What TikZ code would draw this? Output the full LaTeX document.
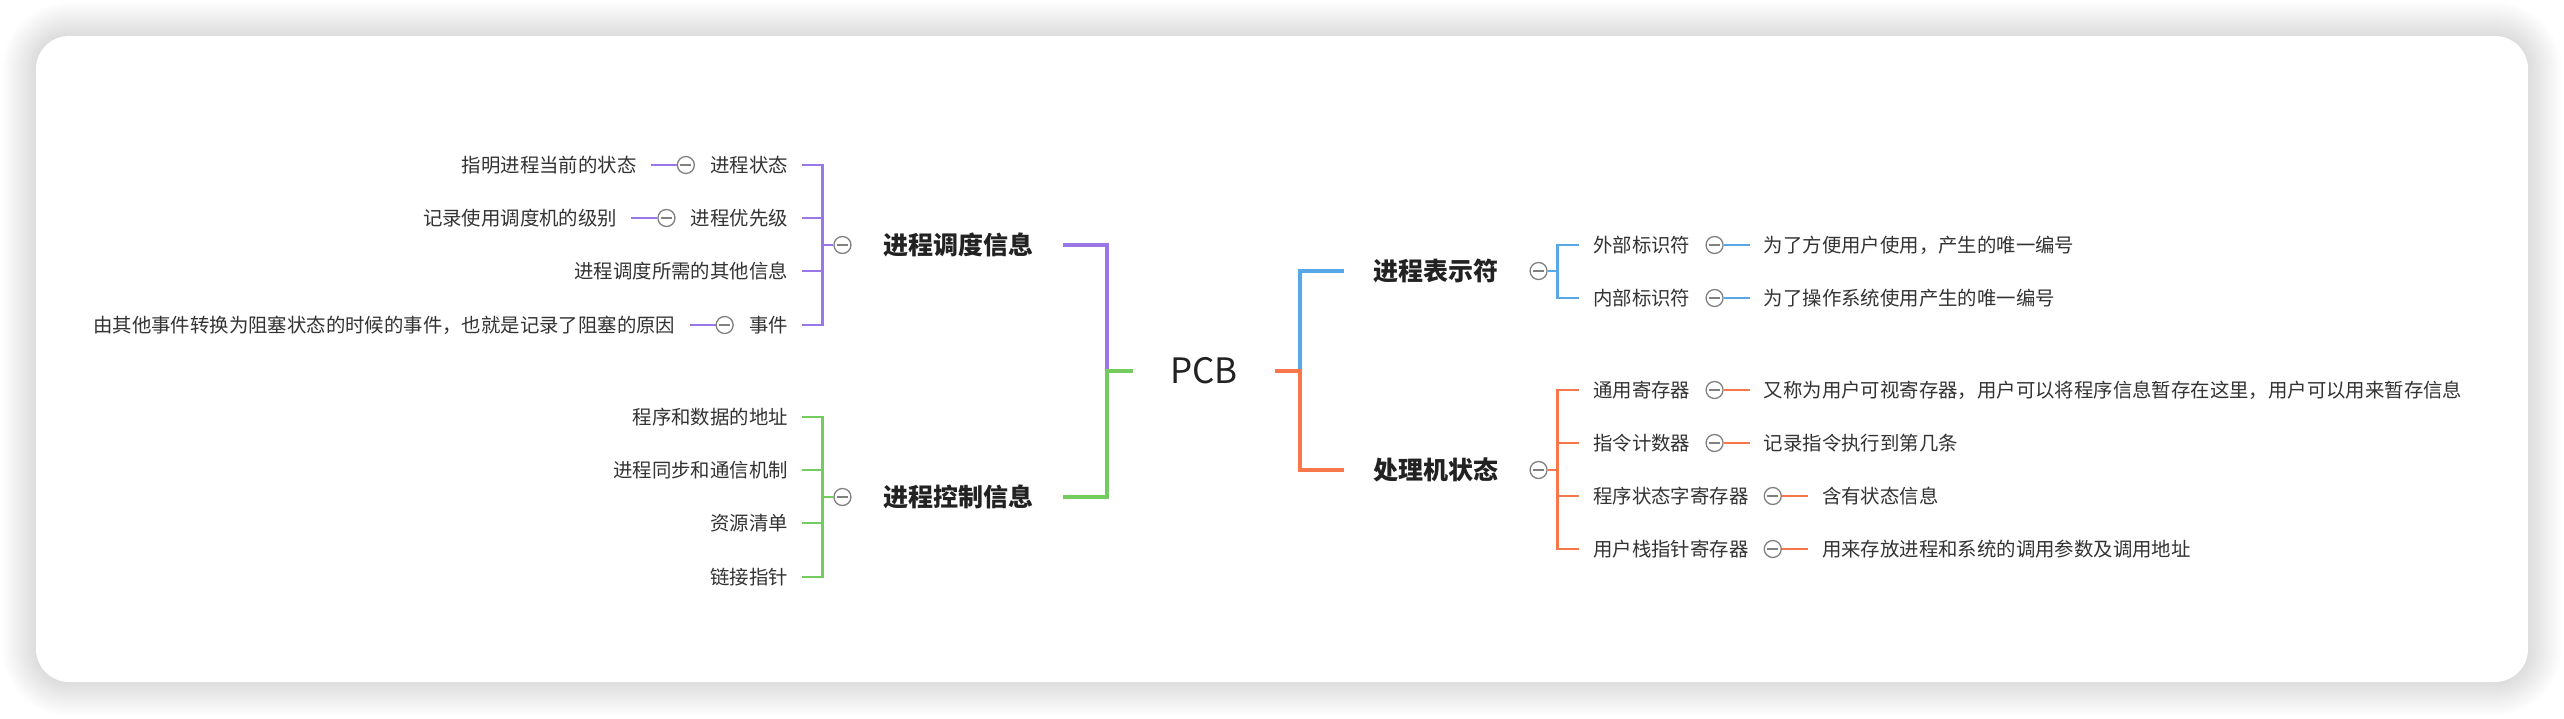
\documentclass[tikz,border=0pt]{standalone}
\usepackage{fontspec}
\setmainfont{Noto Sans CJK SC}
\usetikzlibrary{positioning}

\definecolor{purp}{HTML}{9A76E6}
\definecolor{grn}{HTML}{74CC5F}
\definecolor{blu}{HTML}{58A8E8}
\definecolor{orng}{HTML}{F7774B}
\definecolor{foldgray}{HTML}{808080}
\definecolor{txt}{HTML}{333333}
\definecolor{txtdark}{HTML}{222222}

\tikzset{
  topic/.style={text=txtdark, font=\fontsize{35}{40}\selectfont, text height=28.6pt, text depth=3pt, inner ysep=0pt, inner xsep=37pt},
  mainbox/.style={text=txtdark, font=\bfseries\fontsize{25}{30}\selectfont, text height=22pt, text depth=3pt, inner ysep=0pt, inner xsep=29pt},
  subbox/.style={text=txt, font=\fontsize{19.4}{24}\selectfont, text height=17.1pt, text depth=2.3pt, inner ysep=0pt, inner xsep=14pt},
  fold/.style={circle, draw=foldgray, fill=white, line width=1.3pt, minimum size=17pt, inner sep=0pt,
    path picture={\draw[foldgray, line width=1.3pt] ([xshift=-5.5pt]path picture bounding box.center) -- ([xshift=5.5pt]path picture bounding box.center);}},
  mainline/.style={line width=4pt, line join=miter},
  subline/.style={line width=2.6pt, line join=miter}
}

\begin{document}
\begin{tikzpicture}[x=1pt,y=1pt,yscale=-1,xscale=1]
\useasboundingbox (0,0) rectangle (2564,718);
\fill[white] (0,0) rectangle (2564,718);

%Shape: card shadow and card
\foreach \s [evaluate=\s as \r using 33+\s] in {1,...,34}
  \fill[black, opacity=0.0045, rounded corners=\r pt] ({36-\s},{36-\s}) rectangle ({2528+\s},{682+\s});
\fill[white, rounded corners=33pt] (36,36) rectangle (2528,682);

% Root
\node[topic] (pcb) at (1204,371) {PCB};
\coordinate (jl) at (1107,371);
\coordinate (jr) at (1300,371);

% Main topics
\node[mainbox, anchor=east] (sched) at (1063,245) {进程调度信息};
\node[mainbox, anchor=east] (ctrl) at (1063,497) {进程控制信息};
\node[mainbox, anchor=west] (pid) at (1344,271) {进程表示符};
\node[mainbox, anchor=west] (cpu) at (1344,470) {处理机状态};

\node[fold, left=3pt of sched] (schedf) {};
\node[fold, left=3pt of ctrl] (ctrlf) {};
\node[fold, right=2pt of pid] (pidf) {};
\node[fold, right=2pt of cpu] (cpuf) {};
\coordinate (schedb) at ([xshift=-11pt]schedf.west);
\coordinate (ctrlb) at ([xshift=-11pt]ctrlf.west);
\coordinate (pidb) at ([xshift=10pt]pidf.east);
\coordinate (cpub) at ([xshift=10pt]cpuf.east);

% Text Node: process scheduling
\node[subbox, anchor=east] (state) at (802,165) {进程状态};
\node[subbox, anchor=east] (prio) at (802,218) {进程优先级};
\node[subbox, anchor=east] (other) at (802,271) {进程调度所需的其他信息};
\node[subbox, anchor=east] (event) at (802,325) {事件};
\node[fold, left=1pt of state] (statef) {};
\node[fold, left=1pt of prio] (priof) {};
\node[fold, left=1pt of event] (eventf) {};
\node[subbox, left=26pt of statef] (stated) {指明进程当前的状态};
\node[subbox, left=26pt of priof] (priod) {记录使用调度机的级别};
\node[subbox, left=26pt of eventf] (eventd) {由其他事件转换为阻塞状态的时候的事件，也就是记录了阻塞的原因};

% Text Node: process control
\node[subbox, anchor=east] (addr) at (802,417) {程序和数据的地址};
\node[subbox, anchor=east] (sync) at (802,470) {进程同步和通信机制};
\node[subbox, anchor=east] (res) at (802,523) {资源清单};
\node[subbox, anchor=east] (link) at (802,577) {链接指针};

% Text Node: process identifier
\node[subbox, anchor=west] (extid) at (1579,245) {外部标识符};
\node[subbox, anchor=west] (intid) at (1579,298) {内部标识符};
\node[fold, right=1pt of extid] (extidf) {};
\node[fold, right=1pt of intid] (intidf) {};
\node[subbox, right=26pt of extidf] (extidd) {为了方便用户使用，产生的唯一编号};
\node[subbox, right=26pt of intidf] (intidd) {为了操作系统使用产生的唯一编号};

% Text Node: processor state
\node[subbox, anchor=west] (genreg) at (1579,390) {通用寄存器};
\node[subbox, anchor=west] (pc) at (1579,443) {指令计数器};
\node[subbox, anchor=west] (psw) at (1579,496) {程序状态字寄存器};
\node[subbox, anchor=west] (sp) at (1579,549) {用户栈指针寄存器};
\node[fold, right=1pt of genreg] (genregf) {};
\node[fold, right=1pt of pc] (pcf) {};
\node[fold, right=1pt of psw] (pswf) {};
\node[fold, right=1pt of sp] (spf) {};
\node[subbox, right=26pt of genregf] (genregd) {又称为用户可视寄存器，用户可以将程序信息暂存在这里，用户可以用来暂存信息};
\node[subbox, right=26pt of pcf] (pcd) {记录指令执行到第几条};
\node[subbox, right=26pt of pswf] (pswd) {含有状态信息};
\node[subbox, right=26pt of spf] (spd) {用来存放进程和系统的调用参数及调用地址};

%Straight Lines: root to main topics
\draw[mainline, purp] (jl) |- (sched.east);
\draw[mainline, grn] (pcb.west) -- (jl) |- (ctrl.east);
\draw[mainline, blu] (jr) |- (pid.west);
\draw[mainline, orng] (pcb.east) -- (jr) |- (cpu.west);

%Straight Lines: purple branch
\draw[subline, purp] (schedf.west) -- (schedb);
\draw[subline, purp] (schedb) |- (state.east);
\draw[subline, purp] (schedb) |- (prio.east);
\draw[subline, purp] (schedb) |- (other.east);
\draw[subline, purp] (schedb) |- (event.east);
\draw[subline, purp] (statef.west) -- (stated.east);
\draw[subline, purp] (priof.west) -- (priod.east);
\draw[subline, purp] (eventf.west) -- (eventd.east);

%Straight Lines: green branch
\draw[subline, grn] (ctrlf.west) -- (ctrlb);
\draw[subline, grn] (ctrlb) |- (addr.east);
\draw[subline, grn] (ctrlb) |- (sync.east);
\draw[subline, grn] (ctrlb) |- (res.east);
\draw[subline, grn] (ctrlb) |- (link.east);

%Straight Lines: blue branch
\draw[subline, blu] (pidf.east) -- (pidb);
\draw[subline, blu] (pidb) |- (extid.west);
\draw[subline, blu] (pidb) |- (intid.west);
\draw[subline, blu] (extidf.east) -- (extidd.west);
\draw[subline, blu] (intidf.east) -- (intidd.west);

%Straight Lines: orange branch
\draw[subline, orng] (cpuf.east) -- (cpub);
\draw[subline, orng] (cpub) |- (genreg.west);
\draw[subline, orng] (cpub) |- (pc.west);
\draw[subline, orng] (cpub) |- (psw.west);
\draw[subline, orng] (cpub) |- (sp.west);
\draw[subline, orng] (genregf.east) -- (genregd.west);
\draw[subline, orng] (pcf.east) -- (pcd.west);
\draw[subline, orng] (pswf.east) -- (pswd.west);
\draw[subline, orng] (spf.east) -- (spd.west);
\end{tikzpicture}
\end{document}
